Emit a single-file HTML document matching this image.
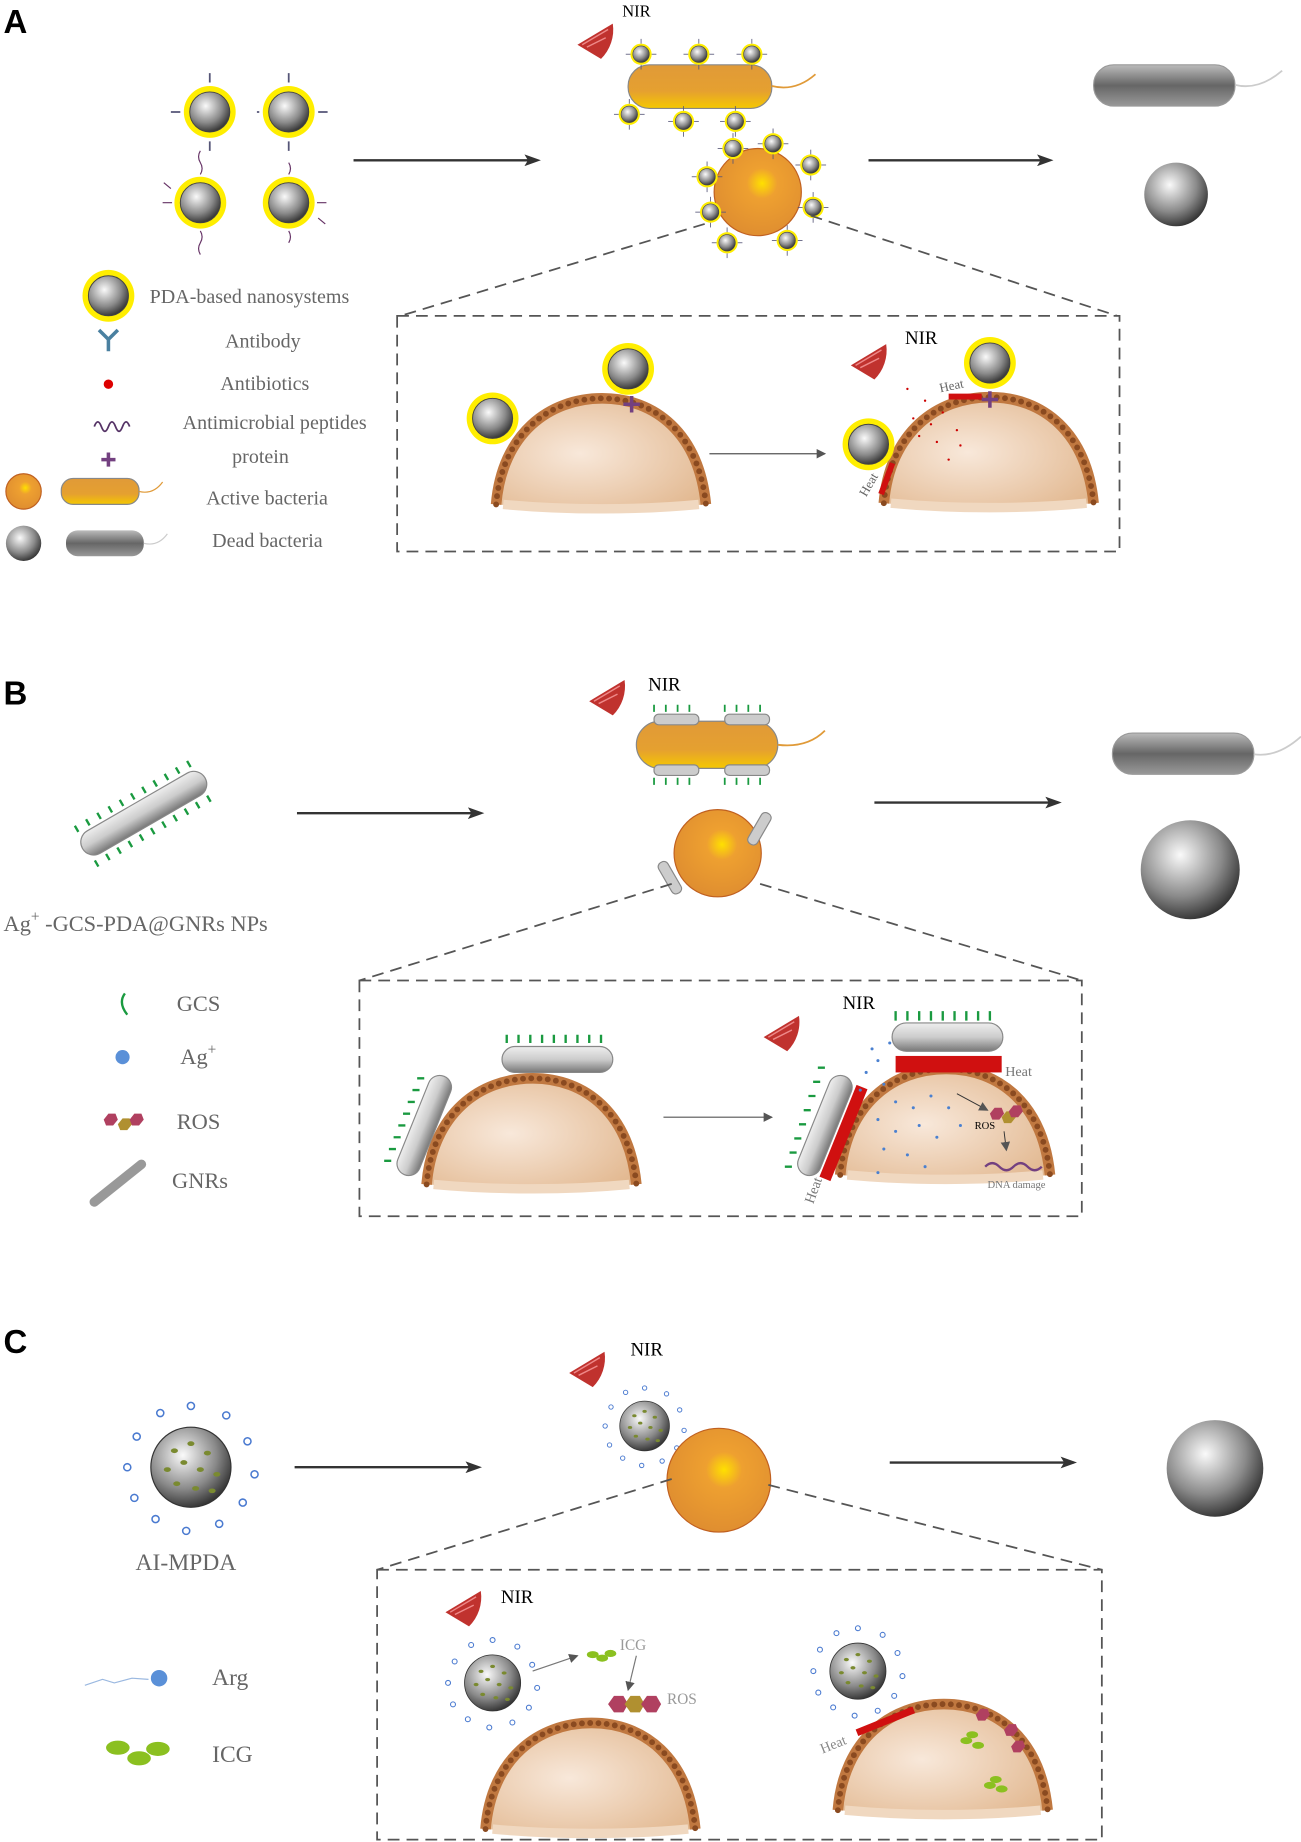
<!DOCTYPE html>
<html><head><meta charset="utf-8"><style>html,body{margin:0;padding:0;background:#fff}svg{display:block}</style></head><body>
<svg width="1301" height="1842" viewBox="0 0 1104 1563" preserveAspectRatio="none" xmlns="http://www.w3.org/2000/svg" font-family="Liberation Serif, serif">
<defs>
<radialGradient id="gs" cx="0.4" cy="0.35" r="0.7"><stop offset="0" stop-color="#fafafa"/><stop offset="0.6" stop-color="#8a8a8a"/><stop offset="1" stop-color="#2a2a2a"/></radialGradient>
<radialGradient id="os" cx="0.55" cy="0.4" r="0.7"><stop offset="0" stop-color="#ffe000"/><stop offset="0.25" stop-color="#eea030"/><stop offset="1" stop-color="#dc8a30"/></radialGradient>
<linearGradient id="orod" x1="0" y1="0" x2="0" y2="1"><stop offset="0" stop-color="#e09a38"/><stop offset="0.6" stop-color="#e5a030"/><stop offset="1" stop-color="#f5c800"/></linearGradient>
<linearGradient id="grod" x1="0" y1="0" x2="0" y2="1"><stop offset="0" stop-color="#bbb"/><stop offset="0.5" stop-color="#666"/><stop offset="1" stop-color="#999"/></linearGradient>
<linearGradient id="gnr" x1="0" y1="0" x2="0" y2="1"><stop offset="0" stop-color="#eee"/><stop offset="0.5" stop-color="#ccc"/><stop offset="1" stop-color="#777"/></linearGradient>
<radialGradient id="domegrad" cx="0.4" cy="0.5" r="0.7"><stop offset="0" stop-color="#f8e8da"/><stop offset="1" stop-color="#e2b890"/></radialGradient>
<g id="np"><circle r="22" fill="#ffee00"/><circle r="17" fill="url(#gs)" stroke="#444" stroke-width="0.8"/></g>
<g id="snp"><circle r="9" fill="#ffee00"/><circle r="7" fill="url(#gs)" stroke="#444" stroke-width="0.5"/><g stroke="#557" stroke-width="0.7"><line x1="0" y1="-9" x2="0" y2="-13"/><line x1="9" y1="0" x2="13" y2="0"/><line x1="-9" y1="0" x2="-13" y2="0"/><line x1="0" y1="9" x2="0" y2="13"/></g></g>
<g id="nir"><path d="M0,0 L30,-18 A35,35 0 0 1 20,12 Z" fill="#c0322e"/><path d="M4,0 L26,-13 M8,2 L24,-6" stroke="#e88" stroke-width="1.2" fill="none"/></g>
<g id="dome"><path d="M0,90 C5,30 45,0 90,0 C135,0 172,30 178,90 C120,95 60,95 0,90Z" fill="url(#domegrad)"/><path d="M0,90 C5,30 45,0 90,0 C135,0 172,30 178,90" fill="none" stroke="#c07840" stroke-width="9"/><path d="M0,90 C5,30 45,0 90,0 C135,0 172,30 178,90" fill="none" stroke="#8a4a20" stroke-width="5" stroke-linecap="round" stroke-dasharray="0 7"/><path d="M6,90 C60,95 120,95 172,90" stroke="#f0d8c0" stroke-width="8" fill="none"/></g>
<marker id="ar" markerWidth="14" markerHeight="10" refX="11" refY="5" orient="auto" markerUnits="userSpaceOnUse"><path d="M0,0 L14,5 L0,10 L3,5Z" fill="#333"/></marker>
<marker id="ars" markerWidth="8" markerHeight="8" refX="7" refY="4" orient="auto" markerUnits="userSpaceOnUse"><path d="M0,0 L8,4 L0,8Z" fill="#555"/></marker>
<g id="mp"><circle r="34" fill="url(#gs)" stroke="#333"/><g fill="#7a8a30"><ellipse cx="-14" cy="-14" rx="3" ry="2"/><ellipse cx="0" cy="-20" rx="3" ry="2"/><ellipse cx="14" cy="-12" rx="3" ry="2"/><ellipse cx="-20" cy="2" rx="3" ry="2"/><ellipse cx="-6" cy="-4" rx="3" ry="2"/><ellipse cx="8" cy="2" rx="3" ry="2"/><ellipse cx="22" cy="6" rx="3" ry="2"/><ellipse cx="-12" cy="14" rx="3" ry="2"/><ellipse cx="4" cy="18" rx="3" ry="2"/><ellipse cx="18" cy="20" rx="3" ry="2"/></g>
<g fill="none" stroke="#4a7ad0" stroke-width="1.3"><circle cx="0" cy="-52" r="3"/><circle cx="30" cy="-44" r="3"/><circle cx="48" cy="-22" r="3"/><circle cx="54" cy="6" r="3"/><circle cx="44" cy="30" r="3"/><circle cx="24" cy="48" r="3"/><circle cx="-4" cy="54" r="3"/><circle cx="-30" cy="44" r="3"/><circle cx="-48" cy="26" r="3"/><circle cx="-54" cy="0" r="3"/><circle cx="-46" cy="-26" r="3"/><circle cx="-26" cy="-46" r="3"/></g></g>
</defs>

<!-- Panel A -->
<text x="3" y="28" font-family="Liberation Sans, sans-serif" font-weight="bold" font-size="28">A</text>
<use href="#np" x="178" y="95"/><use href="#np" x="245" y="95"/><use href="#np" x="170" y="172"/><use href="#np" x="245" y="172"/>
<g stroke="#557" stroke-width="1.5"><path d="M178,70v-8M245,70v-8M178,120v8M245,120v8M153,95h-8M270,95h8M220,95h-2"/></g>
<g stroke="#636" stroke-width="1" fill="none"><path d="M170,148 q3,-5 0,-10 q-3,-5 0,-10M245,148 q3,-5 0,-10M170,196 q3,5 0,10 q-3,5 0,10M245,196 q3,5 0,10M146,172 h-8M269,172h8M145,160l-6,-5M270,185l6,5"/></g>
<line x1="300" y1="136" x2="456" y2="136" stroke="#333" stroke-width="2" marker-end="url(#ar)"/>
<use href="#nir" x="490" y="38"/><text x="528" y="14" font-size="14">NIR</text>
<rect x="533" y="55" width="122" height="37" rx="18" fill="url(#orod)" stroke="#888" stroke-width="1"/>
<path d="M655,73 q20,5 37,-10" stroke="#e09a38" stroke-width="1.5" fill="none"/>
<use href="#snp" x="544" y="46"/><use href="#snp" x="593" y="46"/><use href="#snp" x="638" y="46"/><use href="#snp" x="534" y="97"/><use href="#snp" x="580" y="103"/><use href="#snp" x="624" y="103"/>
<circle cx="643" cy="163" r="37" fill="url(#os)" stroke="#c06020"/>
<use href="#snp" x="622" y="126"/><use href="#snp" x="656" y="122"/><use href="#snp" x="688" y="140"/><use href="#snp" x="600" y="150"/><use href="#snp" x="603" y="180"/><use href="#snp" x="690" y="176"/><use href="#snp" x="617" y="206"/><use href="#snp" x="668" y="204"/>
<line x1="737" y1="136" x2="891" y2="136" stroke="#333" stroke-width="2" marker-end="url(#ar)"/>
<rect x="928" y="55" width="120" height="35" rx="17" fill="url(#grod)" stroke="#999"/>
<path d="M1048,72 q20,5 40,-12" stroke="#ccc" stroke-width="1.5" fill="none"/>
<circle cx="998" cy="165" r="27" fill="url(#gs)"/>
<g stroke="#555" stroke-width="1.5" stroke-dasharray="10 6" fill="none"><path d="M598,190 L340,268M688,183 L948,268"/><rect x="337" y="268" width="613" height="200"/></g>
<use href="#np" x="92" y="251"/>
<text x="127" y="257" font-size="17" fill="#666">PDA-based nanosystems</text>
<path d="M92,298v-10 M92,288l-8,-8 M92,288l8,-8" stroke="#4a80a0" stroke-width="3" fill="none"/>
<text x="191" y="295" font-size="17" fill="#666">Antibody</text>
<circle cx="92" cy="326" r="4" fill="#d00"/><text x="187" y="331" font-size="17" fill="#666">Antibiotics</text>
<path d="M80,362 q3,-8 6,0 q3,8 6,0 q3,-8 6,0 q3,8 6,0 q3,-8 6,0" stroke="#536" stroke-width="1.5" fill="none"/>
<text x="155" y="364" font-size="17" fill="#666">Antimicrobial peptides</text>
<path d="M92,384v12M86,390h12" stroke="#734080" stroke-width="3"/><text x="197" y="393" font-size="17" fill="#666">protein</text>
<circle cx="20" cy="417" r="15" fill="url(#os)" stroke="#c06020"/>
<rect x="52" y="406" width="66" height="22" rx="10" fill="url(#orod)" stroke="#888"/><path d="M118,417 q12,3 20,-8" stroke="#e09a38" fill="none"/>
<text x="175" y="428" font-size="17" fill="#666">Active bacteria</text>
<circle cx="20" cy="461" r="15" fill="url(#gs)"/>
<rect x="56" y="450" width="66" height="22" rx="10" fill="url(#grod)"/><path d="M122,461 q12,3 20,-8" stroke="#ccc" fill="none"/>
<text x="180" y="464" font-size="17" fill="#666">Dead bacteria</text>
<use href="#dome" x="421" y="338"/>
<use href="#np" x="418" y="355"/><use href="#np" x="533" y="313"/>
<path d="M536,336v14M529,343h14" stroke="#734080" stroke-width="3"/>
<line x1="602" y1="385" x2="700" y2="385" stroke="#555" stroke-width="1" marker-end="url(#ars)"/>
<use href="#dome" x="750" y="337"/>
<use href="#np" x="737" y="377"/><use href="#np" x="840" y="308"/>
<path d="M840,332v14M833,339h14" stroke="#734080" stroke-width="3"/>
<rect x="805" y="334" width="28" height="5" fill="#d01010"/><rect x="750" y="392" width="5" height="28" fill="#d01010" transform="rotate(20 752 406)"/>
<text x="798" y="333" font-size="11" fill="#666" transform="rotate(-12 798 333)">Heat</text>
<text x="735" y="422" font-size="11" fill="#666" transform="rotate(-60 735 422)">Heat</text>
<g fill="#c00"><circle cx="770" cy="330" r="1"/><circle cx="785" cy="340" r="1"/><circle cx="775" cy="355" r="1"/><circle cx="790" cy="360" r="1"/><circle cx="800" cy="350" r="1"/><circle cx="812" cy="365" r="1"/><circle cx="795" cy="375" r="1"/><circle cx="815" cy="378" r="1"/><circle cx="805" cy="390" r="1"/><circle cx="780" cy="370" r="1"/></g>
<use href="#nir" x="722" y="310"/><text x="768" y="292" font-size="16">NIR</text>

<!-- Panel B -->
<text x="3" y="598" font-family="Liberation Sans, sans-serif" font-weight="bold" font-size="28">B</text>
<g transform="translate(122,690) rotate(-30)"><rect x="-60" y="-11" width="120" height="22" rx="11" fill="url(#gnr)" stroke="#888"/><path d="M-56,-14 v-6 M-45,-14v-6M-34,-14v-6M-23,-14v-6M-12,-14v-6M-1,-14v-6M10,-14v-6M21,-14v-6M32,-14v-6M43,-14v-6M54,-14v-6M-56,14v6M-45,14v6M-34,14v6M-23,14v6M-12,14v6M-1,14v6M10,14v6M21,14v6M32,14v6M43,14v6M54,14v6" stroke="#1a9a40" stroke-width="2"/></g>
<text x="3" y="790" font-size="19" fill="#666">Ag<tspan font-size="13" dy="-8">+</tspan><tspan dy="8"> -GCS-PDA@GNRs NPs</tspan></text>
<path d="M106,843 q-6,8 2,18" stroke="#1a9a40" stroke-width="2" fill="none"/><text x="150" y="858" font-size="19" fill="#666">GCS</text>
<circle cx="104" cy="897" r="6" fill="#5a90d8"/><text x="153" y="903" font-size="19" fill="#666">Ag<tspan font-size="13" dy="-8">+</tspan></text>
<g fill="#b04060"><polygon points="88,950 92,945 98,945 100,950 96,955 90,955"/><polygon points="100,954 104,949 110,949 112,954 108,959 102,959" fill="#b09030"/><polygon points="110,950 114,945 120,945 122,950 118,955 112,955"/></g>
<text x="150" y="958" font-size="19" fill="#666">ROS</text>
<line x1="80" y1="1020" x2="120" y2="988" stroke="#999" stroke-width="8" stroke-linecap="round"/><text x="146" y="1008" font-size="19" fill="#666">GNRs</text>
<line x1="252" y1="690" x2="408" y2="690" stroke="#333" stroke-width="2" marker-end="url(#ar)"/>
<use href="#nir" x="500" y="595"/><text x="550" y="586" font-size="16">NIR</text>
<rect x="540" y="612" width="120" height="40" rx="20" fill="url(#orod)" stroke="#888"/><path d="M660,632 q25,3 40,-12" stroke="#e09a38" stroke-width="1.5" fill="none"/>
<g fill="#ccc" stroke="#888"><rect x="555" y="606" width="38" height="9" rx="4"/><rect x="615" y="606" width="38" height="9" rx="4"/><rect x="555" y="649" width="38" height="9" rx="4"/><rect x="615" y="649" width="38" height="9" rx="4"/></g>
<path d="M555,604v-6M565,604v-6M575,604v-6M585,604v-6M615,604v-6M625,604v-6M635,604v-6M645,604v-6M555,660v6M565,660v6M575,660v6M585,660v6M615,660v6M625,660v6M635,660v6M645,660v6" stroke="#1a9a40" stroke-width="1.5"/>
<circle cx="609" cy="724" r="37" fill="url(#os)" stroke="#c06020"/>
<rect x="564" y="730" width="9" height="30" rx="4" fill="#ccc" stroke="#888" transform="rotate(-30 568 745)"/><rect x="640" y="688" width="9" height="30" rx="4" fill="#ccc" stroke="#888" transform="rotate(30 644 703)"/>
<line x1="742" y1="681" x2="898" y2="681" stroke="#333" stroke-width="2" marker-end="url(#ar)"/>
<rect x="944" y="622" width="120" height="35" rx="17" fill="url(#grod)" stroke="#999"/><path d="M1064,640 q20,3 40,-15" stroke="#ccc" stroke-width="1.5" fill="none"/>
<circle cx="1010" cy="738" r="42" fill="url(#gs)"/>
<g stroke="#555" stroke-width="1.5" stroke-dasharray="10 6" fill="none"><path d="M570,750 L305,832M645,750 L918,832"/><rect x="305" y="832" width="613" height="200"/></g>
<use href="#dome" x="362" y="915"/>
<g transform="translate(360,955) rotate(-68)"><rect x="-45" y="-10" width="90" height="20" rx="10" fill="url(#gnr)" stroke="#888"/></g>
<rect x="426" y="888" width="94" height="22" rx="11" fill="url(#gnr)" stroke="#888"/>
<path d="M430,885v-7M440,885v-7M450,885v-7M460,885v-7M470,885v-7M480,885v-7M490,885v-7M500,885v-7M510,885v-7M332,985h-6M336,975h-6M340,965h-6M344,955h-6M348,945h-6M352,935h-6M356,925h-6M360,915h-6" stroke="#1a9a40" stroke-width="2"/>
<line x1="563" y1="948" x2="655" y2="948" stroke="#555" stroke-width="1" marker-end="url(#ars)"/>
<use href="#dome" x="713" y="907"/>
<rect x="760" y="896" width="90" height="14" fill="#d01010"/>
<rect x="757" y="868" width="94" height="24" rx="12" fill="url(#gnr)" stroke="#888"/>
<g transform="translate(700,955) rotate(-68)"><rect x="-45" y="-10" width="90" height="20" rx="10" fill="url(#gnr)" stroke="#888"/><rect x="-42" y="12" width="84" height="10" fill="#d01010"/></g>
<path d="M760,866v-8M770,866v-8M780,866v-8M790,866v-8M800,866v-8M810,866v-8M820,866v-8M830,866v-8M840,866v-8M672,990h-6M676,978h-6M680,966h-6M684,954h-6M688,942h-6M692,930h-6M696,918h-6M700,906h-6" stroke="#1a9a40" stroke-width="2"/>
<g fill="#4a80d0"><circle cx="740" cy="890" r="1.3"/><circle cx="745" cy="900" r="1.3"/><circle cx="735" cy="910" r="1.3"/><circle cx="750" cy="920" r="1.3"/><circle cx="760" cy="935" r="1.3"/><circle cx="775" cy="940" r="1.3"/><circle cx="790" cy="930" r="1.3"/><circle cx="805" cy="940" r="1.3"/><circle cx="745" cy="950" r="1.3"/><circle cx="760" cy="960" r="1.3"/><circle cx="780" cy="955" r="1.3"/><circle cx="795" cy="965" r="1.3"/><circle cx="750" cy="975" r="1.3"/><circle cx="770" cy="980" r="1.3"/><circle cx="785" cy="990" r="1.3"/><circle cx="815" cy="955" r="1.3"/><circle cx="730" cy="925" r="1.3"/><circle cx="755" cy="885" r="1.3"/><circle cx="745" cy="995" r="1.3"/></g>
<line x1="812" y1="928" x2="838" y2="942" stroke="#333" stroke-width="0.8" marker-end="url(#ars)"/>
<g><polygon points="840,945 844,940 850,940 852,945 848,950 842,950" fill="#b04060"/><polygon points="850,948 854,943 860,943 862,948 858,953 852,953" fill="#b09030"/><polygon points="856,943 860,938 866,938 868,943 864,948 858,948" fill="#b04060"/></g>
<text x="827" y="958" font-size="9">ROS</text><line x1="852" y1="960" x2="854" y2="976" stroke="#333" stroke-width="0.8" marker-end="url(#ars)"/>
<text x="838" y="1008" font-size="9" fill="#777">DNA damage</text>
<path d="M836,990 q6,-6 12,0 q6,6 12,0 q6,-6 12,0 q6,6 12,0" stroke="#734080" stroke-width="2" fill="none"/>
<text x="853" y="913" font-size="12" fill="#777">Heat</text>
<text x="690" y="1022" font-size="12" fill="#777" transform="rotate(-70 690 1022)">Heat</text>
<use href="#nir" x="648" y="880"/><text x="715" y="856" font-size="16">NIR</text>

<!-- Panel C -->
<text x="3" y="1148" font-family="Liberation Sans, sans-serif" font-weight="bold" font-size="28">C</text>
<use href="#mp" x="162" y="1245"/>
<text x="115" y="1332" font-size="20" fill="#666">AI-MPDA</text>
<path d="M72,1430 l15,-5 l10,3 l15,-4 l14,1" stroke="#9ab8e0" fill="none"/><circle cx="135" cy="1424" r="7" fill="#5a90d8"/>
<text x="180" y="1430" font-size="20" fill="#666">Arg</text>
<g fill="#8bc020"><ellipse cx="100" cy="1483" rx="10" ry="6"/><ellipse cx="118" cy="1492" rx="10" ry="6"/><ellipse cx="134" cy="1484" rx="10" ry="6"/></g>
<text x="180" y="1495" font-size="20" fill="#666">ICG</text>
<line x1="250" y1="1245" x2="406" y2="1245" stroke="#333" stroke-width="2" marker-end="url(#ar)"/>
<use href="#nir" x="483" y="1165"/><text x="535" y="1150" font-size="16">NIR</text>
<g transform="translate(547,1210) scale(0.62)"><use href="#mp"/></g>
<circle cx="610" cy="1256" r="44" fill="url(#os)" stroke="#c06020"/>
<line x1="755" y1="1241" x2="911" y2="1241" stroke="#333" stroke-width="2" marker-end="url(#ar)"/>
<circle cx="1031" cy="1246" r="41" fill="url(#gs)"/>
<g stroke="#555" stroke-width="1.5" stroke-dasharray="10 6" fill="none"><path d="M570,1255 L320,1332M652,1260 L935,1332"/><rect x="320" y="1332" width="615" height="229"/></g>
<use href="#nir" x="378" y="1368"/><text x="425" y="1360" font-size="16">NIR</text>
<g transform="translate(418,1428) scale(0.7)"><use href="#mp"/></g>
<use href="#dome" x="412" y="1462"/>
<line x1="452" y1="1418" x2="490" y2="1405" stroke="#777" marker-end="url(#ars)"/>
<g fill="#8bc020"><ellipse cx="503" cy="1404" rx="5" ry="3"/><ellipse cx="511" cy="1407" rx="5" ry="3"/><ellipse cx="518" cy="1403" rx="5" ry="3"/></g>
<text x="526" y="1400" font-size="13" fill="#999">ICG</text>
<line x1="540" y1="1405" x2="533" y2="1434" stroke="#777" marker-end="url(#ars)"/>
<g><polygon points="516,1446 521,1439 529,1439 533,1446 529,1453 521,1453" fill="#b04060"/><polygon points="530,1446 535,1439 543,1439 547,1446 543,1453 535,1453" fill="#b09030"/><polygon points="544,1446 549,1439 557,1439 561,1446 557,1453 549,1453" fill="#b04060"/></g>
<text x="566" y="1446" font-size="13" fill="#999">ROS</text>
<g transform="translate(728,1418) scale(0.7)"><use href="#mp"/></g>
<use href="#dome" x="711" y="1446"/>
<rect x="725" y="1458" width="52" height="6" fill="#d01010" transform="rotate(-22 750 1460)"/>
<text x="698" y="1488" font-size="12" fill="#888" transform="rotate(-22 698 1488)">Heat</text>
<g fill="#8bc020"><ellipse cx="820" cy="1477" rx="5" ry="3"/><ellipse cx="830" cy="1481" rx="5" ry="3"/><ellipse cx="825" cy="1472" rx="5" ry="3"/><ellipse cx="840" cy="1515" rx="5" ry="3"/><ellipse cx="850" cy="1518" rx="5" ry="3"/><ellipse cx="845" cy="1510" rx="5" ry="3"/></g>
<g fill="#b04060"><polygon points="828,1455 832,1450 838,1450 840,1455 836,1460 830,1460"/><polygon points="852,1468 856,1463 862,1463 864,1468 860,1473 854,1473"/><polygon points="858,1482 862,1477 868,1477 870,1482 866,1487 860,1487"/></g>
</svg>
</body></html>
